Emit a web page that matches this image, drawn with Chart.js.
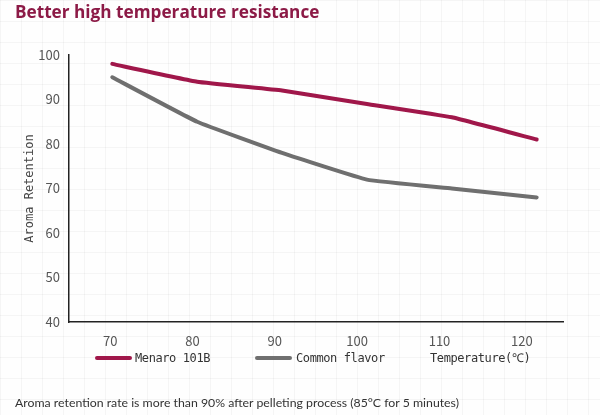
<!DOCTYPE html>
<html>
<head>
<meta charset="utf-8">
<script src="https://cdn.jsdelivr.net/npm/chart.js@4.4.1/dist/chart.umd.min.js"></script>
<style>
  html, body { margin: 0; padding: 0; }
  body {
    width: 600px; height: 415px; overflow: hidden; position: relative;
    background-color: #fefefe;
    background-image:
      linear-gradient(to right, rgba(0,0,0,0.035) 1px, transparent 1px),
      linear-gradient(to bottom, rgba(0,0,0,0.035) 1px, transparent 1px);
    background-size: 21px 21px;
  }
  #title {
    position: absolute; left: 15px; top: 1px;
    font: bold 17.2px "Open Sans", Lato, sans-serif; color: #8c1a46;
    line-height: 22px;
  }
  #caption {
    position: absolute; left: 15px; top: 395px;
    font: 12.3px Lato, "Open Sans", sans-serif; color: #333;
    line-height: 16px;
  }
  #wrap { position: absolute; left: 0; top: 0; width: 600px; height: 415px; }
  .lg { position: absolute; top: 350px; font: 12px "DejaVu Sans Mono", monospace;
        letter-spacing: -0.4px; color: #333; line-height: 16px; white-space: nowrap; }
  .sw { position: absolute; top: 356px; width: 37px; height: 4px; border-radius: 2px; }
</style>
</head>
<body>
<div id="wrap"><canvas id="chart"></canvas></div>
<div id="title">Better high temperature resistance</div>

<span class="sw" style="left:95px;background:#a0174a"></span>
<span class="lg" style="left:135px">Menaro 101B</span>
<span class="sw" style="left:255px;background:#6f6f6f"></span>
<span class="lg" style="left:296px">Common flavor</span>
<span class="lg" style="left:430px">Temperature(℃)</span>

<div id="caption">Aroma retention rate is more than 90% after pelleting process (85°C for 5 minutes)</div>

<script>
// temperature steps (°C)
const temps    = [70, 80, 90, 100, 110, 120];
const xLabels  = ['70', '80', '90', '100', '110', '120'];
// aroma retention values
const menaro   = [98, 94, 92, 89, 86, 81];
const common   = [95, 85, 78, 72, 70, 68];
const yTicks   = [40, 50, 60, 70, 80, 90, 100];

const toPts = arr => arr.map((v, i) => ({ x: temps[i], y: v }));

const tickFont = { family: '"Noto Sans CJK SC", "Noto Sans", sans-serif', size: 13 };

const ctx = document.getElementById('chart').getContext('2d');
new Chart(ctx, {
  type: 'line',
  data: {
    labels: xLabels,
    datasets: [
      {
        label: 'Menaro 101B',
        data: toPts(menaro),
        xAxisID: 'xData',
        borderColor: '#a0174a',
        borderWidth: 4,
        borderCapStyle: 'round',
        borderJoinStyle: 'round',
        pointRadius: 0,
        tension: 0.1
      },
      {
        label: 'Common flavor',
        data: toPts(common),
        xAxisID: 'xData',
        borderColor: '#6f6f6f',
        borderWidth: 4,
        borderCapStyle: 'round',
        borderJoinStyle: 'round',
        pointRadius: 0,
        tension: 0.1
      }
    ]
  },
  options: {
    responsive: true,
    maintainAspectRatio: false,
    animation: false,
    layout: { padding: { left: 0, right: 37, top: 55, bottom: 63 } },
    plugins: {
      legend: { display: false },
      tooltip: { enabled: false }
    },
    scales: {
      x: {
        type: 'category',
        offset: true,
        grid: { display: false, drawTicks: false },
        border: { display: true, color: '#222', width: 1.5 },
        ticks: { color: '#555', font: tickFont, padding: 11, maxRotation: 0 },
        afterFit: s => { s.height = 30; }
      },
      xData: {
        type: 'linear',
        display: false,
        min: 64.9,
        max: 123.1
      },
      y: {
        min: 40,
        max: 100,
        grid: { display: false, drawTicks: false },
        border: { display: true, color: '#222', width: 1.5 },
        afterBuildTicks: s => { s.ticks = yTicks.map(v => ({ value: v })); },
        ticks: { color: '#555', font: tickFont, padding: 9 },
        title: {
          display: true,
          text: 'Aroma Retention',
          color: '#444',
          font: { family: '"DejaVu Sans Mono", monospace', size: 12 },
          padding: { top: 23, bottom: 0 }
        },
        afterFit: s => { s.width = 69; }
      }
    }
  }
});
</script>
</body>
</html>
